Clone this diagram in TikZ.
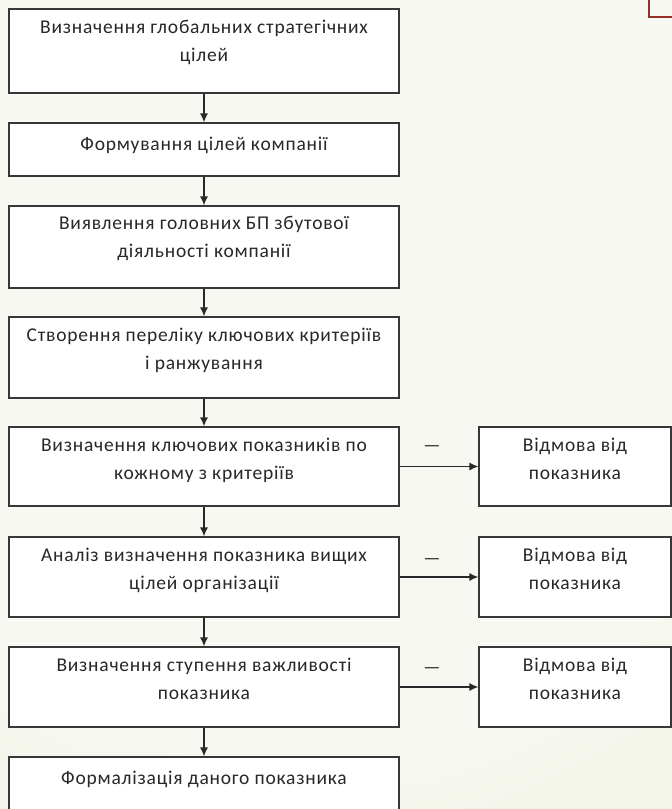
\documentclass[tikz,border=0pt]{standalone}
\usepackage{fontspec}
\setmainfont{Carlito}
\newfontfamily\boxfont[LetterSpace=4]{Carlito}
\usetikzlibrary{arrows.meta}
\definecolor{bgA}{RGB}{247,248,241}
\definecolor{bgB}{RGB}{218,229,190}
\definecolor{edge}{RGB}{55,55,55}
\definecolor{ink}{RGB}{40,40,40}
\definecolor{accent}{RGB}{150,48,38}
\pgfdeclareradialshading{bgglow}{\pgfpoint{0bp}{0bp}}{color(0bp)=(bgA); color(18bp)=(bgA); color(50bp)=(bgB)}
\begin{document}
\begin{tikzpicture}[x=1pt,y=-1pt,
  box/.style={draw=edge,line width=1.2pt,fill=white,rectangle,inner sep=0pt},
  lbox/.style={box,minimum width=390pt},
  rbox/.style={box,minimum width=192pt},
  txt/.style={anchor=north,align=center,font=\boxfont\fontsize{19.5}{28}\selectfont,text=ink,inner sep=0pt},
  flow/.style={draw=ink,line width=1.3pt,-{Latex[length=9pt,width=8pt]}},
  minus/.style={font=\fontsize{19}{20}\selectfont,text=ink,inner sep=0pt}
]
% page and background glow
\useasboundingbox (0,0) rectangle (672,809);
\begin{scope}
  \clip (0,0) rectangle (672,809);
  \fill[bgB] (0,0) rectangle (672,809);
  \shade[shading=bgglow] (300,250) circle (700);
  % corner frame at the top right
  \draw[accent,line width=1.6pt] (649,-10) rectangle (700,17);
\end{scope}

% main chain of steps
\node[lbox,minimum height=84pt] (b1) at (204,51) {};
\node[lbox,minimum height=53pt] (b2) at (204,149.5) {};
\node[lbox,minimum height=82pt] (b3) at (204,247) {};
\node[lbox,minimum height=81pt] (b4) at (204,357.5) {};
\node[lbox,minimum height=79pt] (b5) at (204,466.5) {};
\node[lbox,minimum height=80pt] (b6) at (204,577) {};
\node[lbox,minimum height=80pt] (b7) at (204,687) {};
\node[lbox,minimum height=100pt] (b8) at (204,807) {};

% rejection boxes
\node[rbox,minimum height=79pt] (r5) at (575,466.5) {};
\node[rbox,minimum height=80pt] (r6) at (575,577) {};
\node[rbox,minimum height=80pt] (r7) at (575,687) {};

% step texts
\node[txt] (t1) at ([yshift=-11pt]b1.north) {Визначення глобальних стратегічних\\цілей};
\node[txt] (t2) at ([yshift=-14pt]b2.north) {Формування цілей компанії};
\node[txt] (t3) at ([yshift=-11pt]b3.north) {Виявлення головних БП збутової\\діяльності компанії};
\node[txt] (t4) at ([yshift=-11pt]b4.north) {Створення переліку ключових критеріїв\\і ранжування};
\node[txt] (t5) at ([yshift=-11pt]b5.north) {Визначення ключових показників по\\кожному з критеріїв};
\node[txt] (t6) at ([yshift=-11pt]b6.north) {Аналіз визначення показника вищих\\цілей організації};
\node[txt] (t7) at ([yshift=-11pt]b7.north) {Визначення ступення важливості\\показника};
\node[txt] (t8) at ([yshift=-14pt]b8.north) {Формалізація даного показника};

\node[txt] (u5) at ([yshift=-11pt]r5.north) {Відмова від\\показника};
\node[txt] (u6) at ([yshift=-11pt]r6.north) {Відмова від\\показника};
\node[txt] (u7) at ([yshift=-11pt]r7.north) {Відмова від\\показника};

% vertical flow
\draw[flow] (b1) -- (b2);
\draw[flow] (b2) -- (b3);
\draw[flow] (b3) -- (b4);
\draw[flow] (b4) -- (b5);
\draw[flow] (b5) -- (b6);
\draw[flow] (b6) -- (b7);
\draw[flow] (b7) -- (b8);

% negative outcomes
\draw[flow] (b5.east) -- (r5.west);
\draw[flow] (b6.east) -- (r6.west);
\draw[flow] (b7.east) -- (r7.west);
\node[minus] (m5) at (432,449) {—};
\node[minus] (m6) at (432,562) {—};
\node[minus] (m7) at (432,671) {—};
\end{tikzpicture}
\end{document}
